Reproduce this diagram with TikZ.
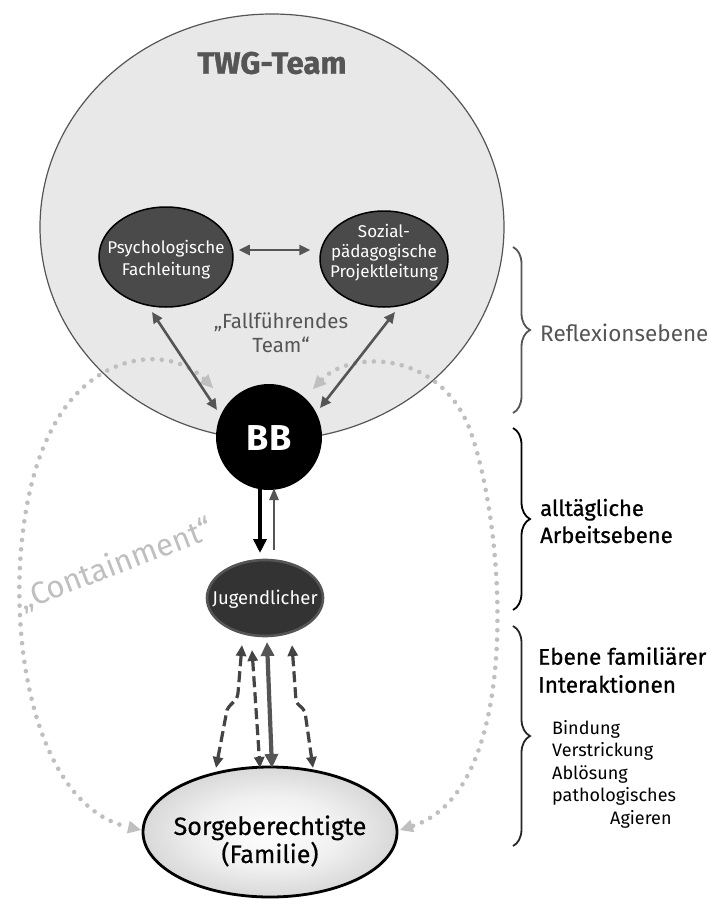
\documentclass[tikz,border=0pt]{standalone}
\usepackage{fontspec}
\setmainfont{Fira Sans}
\usetikzlibrary{shapes.geometric,arrows.meta,decorations.pathreplacing,calc}
\definecolor{g55}{HTML}{555555}
\definecolor{circfill}{HTML}{E8E8E8}
\definecolor{darkell}{HTML}{4A4A4A}
\definecolor{jugfill}{HTML}{333333}
\definecolor{dotc}{HTML}{BFBFBF}
\definecolor{dashc}{HTML}{444444}
\pgfdeclareradialshading{sorgeshade}{\pgfpoint{0bp}{0bp}}{color(0bp)=(white);color(14bp)=(white!94!black);color(50bp)=(black!36);color(100bp)=(black!36)}
\tikzset{
  fz/.style n args={2}{font=\fontsize{#1}{#2}\selectfont},
  bigcirc/.style={ellipse,draw=g55,line width=1.2pt,fill=circfill,inner sep=0pt},
  leadell/.style={ellipse,draw=black,line width=1.5pt,fill=darkell,inner sep=0pt},
  whitetxt/.style={text=white,align=center,inner sep=0pt},
  grayarrow/.style={draw=g55,line width=2.6pt,{Triangle[length=11pt,width=10pt]}-{Triangle[length=11pt,width=10pt]}},
  dotline/.style={draw=dotc,line width=4.6pt,line cap=round,dash pattern=on 0pt off 9.4pt,
     {Triangle[length=13pt,width=13pt,line width=0pt,fill=dotc]}-{Triangle[length=13pt,width=13pt,line width=0pt,fill=dotc]}},
  dasharrow/.style={draw=dashc,line width=3.2pt,dash pattern=on 11pt off 5pt,
     {Triangle[length=11pt,width=10pt]}-{Triangle[length=11pt,width=10pt]}},
  bracestyle/.style={decorate,decoration={brace,amplitude=17pt},line width=1.8pt},
}
\begin{document}
\begin{tikzpicture}[x=1pt,y=-1pt]
\useasboundingbox (0,0) rectangle (709,899);
\fill[white] (0,0) rectangle (709,899);

% big TWG circle
\node[bigcirc,minimum width=464pt,minimum height=426pt] (twg) at (272,227) {};
\node[font=\bfseries\fontsize{31}{36}\selectfont\addfontfeatures{FakeBold=1.2},text=g55] (twgt) at (272,63) {TWG-Team};

% lead ellipses
\node[leadell,minimum width=134pt,minimum height=100pt] (psy) at (166,257) {};
\node[whitetxt,fz={17}{22}] (psyt) at (166,260) {Psychologische\\Fachleitung};
\node[leadell,minimum width=128pt,minimum height=96pt] (soz) at (384,259) {};
\node[whitetxt,fz={17}{20}] (sozt) at (384,253) {Sozial-\\pädagogische\\Projektleitung};

\node[fz={20.5}{24},text=g55,align=center] (fall) at (281,333) {„Fallführendes\\Team“};

% BB
\node[circle,fill=black,minimum size=106pt,inner sep=0pt] (bb) at (269,437) {};
\node[text=white,font=\bfseries\fontsize{36}{40}\selectfont] (bbt) at (269,438) {BB};

% dotted containment loops
\draw[dotline] ($(bb)+(-56,-49)$) .. controls (170,345) and (90,350) .. (50,433)
   .. controls (-5,540) and (10,800) .. ($(bb)+(-128,393)$);
\draw[dotline] ($(bb)+(44,-48)$) .. controls (350,350) and (440,350) .. (470,430)
   .. controls (505,525) and (525,790) .. ($(bb)+(131,393)$);

% Jugendlicher
\node[ellipse,draw=g55,line width=2.6pt,fill=jugfill,minimum width=116pt,minimum height=76pt,inner sep=0pt] (jug) at (265,598) {};
\node[whitetxt,fz={18.5}{22}] (jugt) at (265,599) {Jugendlicher};

% Sorgeberechtigte
\node[ellipse,draw=black,line width=2.8pt,shading=sorgeshade,minimum width=254pt,minimum height=130pt,inner sep=0pt] (sorge) at (270,832) {};
\node[font=\fontsize{25}{28}\selectfont\addfontfeatures{FakeBold=0.5},align=center,inner sep=0pt] (sorget) at (270,841) {Sorgeberechtigte\\(Familie)};

% arrows in the team
\draw[grayarrow] ($(psy.east)+(5,-7)$) -- ($(soz.west)+(-9,-9)$);
\draw[grayarrow] ($(psy)+(-14,55)$) -- ($(bb)+(-52,-27)$);
\draw[grayarrow] ($(soz)+(11,53)$) -- ($(bb)+(51,-29)$);

% BB <-> Jugendlicher
\draw[line width=4pt,-{Triangle[length=14pt,width=13pt]}] ($(bb)+(-9,50)$) -- ($(jug)+(-5,-45)$);
\draw[draw=g55,line width=2.6pt,-{Triangle[length=12pt,width=9pt]}] ($(jug)+(9,-48)$) -- ($(bb)+(5,51)$);

% Jugendlicher <-> Sorgeberechtigte
\draw[draw=g55,line width=4.2pt,{Triangle[length=14pt,width=13pt]}-{Triangle[length=14pt,width=13pt]}] ($(jug)+(2,44)$) -- ($(sorge)+(2,-64)$);
\draw[dasharrow] ($(jug)+(-23,47)$) -- (238,693) .. controls (237,702) and (231,702) .. (227,710) -- ($(sorge)+(-54,-64)$);
\draw[dasharrow] ($(jug)+(-13,52)$) -- ($(sorge)+(-10,-64)$);
\draw[dasharrow] ($(jug)+(27,47)$) -- (296,701) .. controls (298,706) and (302,706) .. (305,712) -- ($(sorge)+(43,-64)$);

% containment label
\node[fz={31}{34},text=dotc,rotate=21] (cont) at (116,565) {„Containment“};

% braces and level labels
\coordinate (b1t) at (513,247); \coordinate (b1b) at (513,413);
\coordinate (b2t) at (513,428); \coordinate (b2b) at (513,610);
\coordinate (b3t) at (513,626); \coordinate (b3b) at (513,846);
\draw[bracestyle,draw=g55] (b1t) -- (b1b);
\draw[bracestyle,draw=black] (b2t) -- (b2b);
\draw[bracestyle,draw=black!85] (b3t) -- (b3b);

\node[fz={22.5}{26},text=g55,anchor=west,inner sep=0pt] (refl) at (540,333) {Reflexionsebene};
\node[font=\fontsize{22}{27}\selectfont\addfontfeatures{FakeBold=0.9},anchor=west,align=left,inner sep=0pt] (arb) at (540,521) {alltägliche\\Arbeitsebene};
\node[font=\fontsize{22.5}{28}\selectfont\addfontfeatures{FakeBold=0.9},anchor=west,align=left,inner sep=0pt] (fam) at (538,670) {Ebene familiärer\\Interaktionen};
\node[fz={18}{22.5},anchor=west,align=left,inner sep=0pt] (list) at (552,774) {Bindung\\Verstrickung\\Ablösung\\pathologisches\\\hspace*{58pt}Agieren};
\end{tikzpicture}
\end{document}
